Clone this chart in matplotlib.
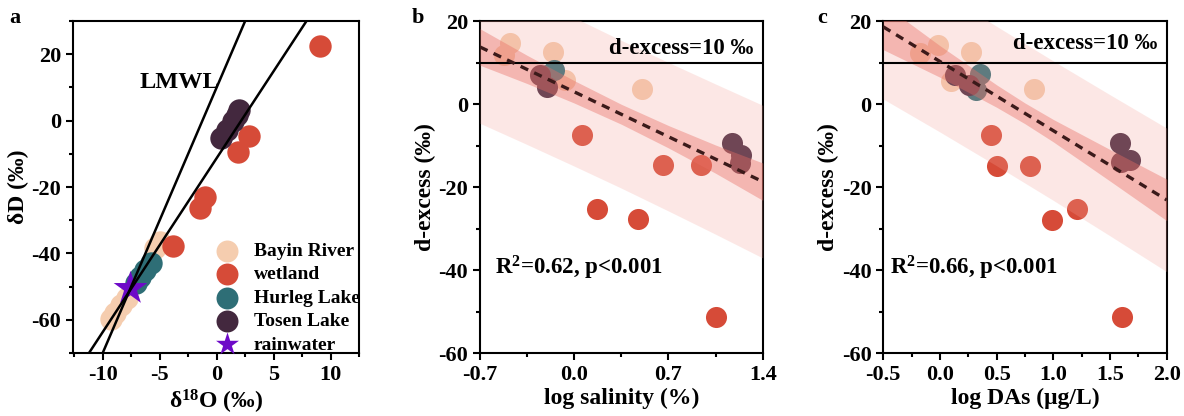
import numpy as np
import matplotlib
matplotlib.use("Agg")
import matplotlib.pyplot as plt
from matplotlib.ticker import MultipleLocator

plt.rcParams['font.family'] = ['Liberation Serif', 'DejaVu Serif']
plt.rcParams['font.weight'] = 'bold'
plt.rcParams['axes.labelweight'] = 'bold'
plt.rcParams['axes.unicode_minus'] = False
plt.rcParams['mathtext.fontset'] = 'custom'
plt.rcParams['mathtext.rm'] = 'Liberation Serif:bold'
plt.rcParams['mathtext.bf'] = 'Liberation Serif:bold'
plt.rcParams['mathtext.default'] = 'bf'

C_BAYIN = '#F5CDAF'
C_WET = '#D64B38'
C_HUR = '#2E6E76'
C_TOS = '#43283E'
C_RAIN = '#6E0AC8'

# ---- panel a: dual isotopes (d18O, dD) ----
a_bayin_x = [-9.3, -8.9, -8.4, -7.9, -5.4, -5.0]
a_bayin_y = [-59.8, -58.0, -55.5, -53.5, -38.5, -36.5]
a_wet_x = [9.1, 2.8, 1.9, -1.0, -1.5, -3.8]
a_wet_y = [22.6, -4.5, -9.5, -22.9, -26.2, -37.7]
a_hur_x = [-5.8, -6.3, -6.7, -7.1]
a_hur_y = [-43.0, -45.0, -47.0, -49.0]
a_tos_x = [0.4, 0.9, 1.4, 1.8, 2.0]
a_tos_y = [-5.2, -2.8, -0.2, 1.8, 3.2]
a_rain_x = [-7.6]
a_rain_y = [-50.5]
# water lines: slope, intercept
line_slopes = [8.0, 5.24]
line_inter = [10.0, -11.3]

# ---- panel b: d-excess vs log salinity ----
b_bayin_x = [-0.48, -0.52, -0.155, -0.07, 0.50]
b_bayin_y = [14.6, 11.8, 12.5, 5.8, 3.7]
b_wet_x = [0.057, 0.66, 0.94, 0.17, 0.47, 1.05]
b_wet_y = [-7.5, -14.7, -14.7, -25.4, -27.8, -51.2]
b_hur_x = [-0.15, -0.20]
b_hur_y = [8.2, 7.0]
b_tos_x = [-0.254, -0.20, 1.17, 1.24, 1.23]
b_tos_y = [6.9, 4.1, -9.5, -12.3, -14.3]
b_band_x = [-0.7, -0.35, 0.0, 0.35, 0.7, 1.05, 1.4]
b_fit = [13.75, 8.34, 2.94, -2.47, -7.88, -13.28, -18.7]
b_ci = [4.4, 3.4, 2.7, 2.4, 2.7, 3.4, 4.5]
b_pi = [18.4, 18.1, 17.9, 17.8, 17.9, 18.1, 18.4]

# ---- panel c: d-excess vs log DAs ----
c_bayin_x = [-0.02, -0.18, 0.27, 0.10, 0.83]
c_bayin_y = [14.2, 12.2, 12.5, 5.5, 3.7]
c_wet_x = [0.45, 0.50, 0.79, 1.21, 0.99, 1.61]
c_wet_y = [-7.5, -14.9, -14.9, -25.4, -27.9, -51.2]
c_hur_x = [0.35, 0.32]
c_hur_y = [7.3, 3.3]
c_tos_x = [0.13, 0.26, 1.59, 1.68, 1.60]
c_tos_y = [6.9, 4.5, -9.5, -13.5, -13.9]
c_band_x = [-0.5, 0.0, 0.5, 0.75, 1.0, 1.5, 2.0]
c_fit = [18.6, 10.26, 1.92, -2.25, -6.42, -14.76, -23.1]
c_ci = [5.5, 3.8, 2.7, 2.5, 2.7, 3.8, 5.0]
c_pi = [17.4, 17.0, 16.8, 16.8, 16.8, 17.0, 17.3]

TICK_FS = 16
LAB_FS = 17


def style_axis(ax):
    for s in ax.spines.values():
        s.set_linewidth(1.5)
    ax.tick_params(which='major', direction='out', length=5, width=1.5,
                   labelsize=TICK_FS, top=False, right=False)
    ax.tick_params(which='minor', direction='out', length=3, width=1.5,
                   top=False, right=False)


fig = plt.figure(figsize=(11.84, 4.16), dpi=100)
axa = fig.add_axes([0.0617, 0.1514, 0.2416, 0.798])
axb = fig.add_axes([0.4054, 0.1514, 0.2388, 0.798])
axc = fig.add_axes([0.7460, 0.1514, 0.2394, 0.798])

# panel a
s_a = 260
axa.scatter(a_bayin_x, a_bayin_y, s=s_a, c=C_BAYIN, lw=0, zorder=2, label='Bayin River')
axa.scatter(a_wet_x, a_wet_y, s=s_a, c=C_WET, lw=0, zorder=2, label='wetland')
axa.scatter(a_hur_x, a_hur_y, s=s_a, c=C_HUR, lw=0, zorder=2, label='Hurleg Lake')
axa.scatter(a_tos_x, a_tos_y, s=s_a, c=C_TOS, lw=0, zorder=2, label='Tosen Lake')
axa.scatter(a_rain_x, a_rain_y, s=650, c=C_RAIN, marker='*', lw=0, zorder=2.5,
            label='rainwater')
xx = np.array([-14.0, 14.0])
for k, b0 in zip(line_slopes, line_inter):
    axa.plot(xx, k * xx + b0, color='black', lw=1.8, zorder=3)
axa.text(-3.3, 11.5, 'LMWL', fontsize=17.5, ha='center', va='center')
axa.set_xlim(-12.6, 12.5)
axa.set_ylim(-70, 30)
axa.xaxis.set_major_locator(MultipleLocator(5))
axa.xaxis.set_minor_locator(MultipleLocator(2.5))
axa.yaxis.set_major_locator(MultipleLocator(20))
axa.yaxis.set_minor_locator(MultipleLocator(10))
axa.set_xlabel('δ$^{18}$O (‰)', fontsize=LAB_FS, labelpad=2)
axa.set_ylabel('δD (‰)', fontsize=LAB_FS, labelpad=2)
style_axis(axa)
leg = axa.legend(loc='lower right', bbox_to_anchor=(1.03, -0.025), frameon=False,
                 fontsize=14, handlelength=1.0, handletextpad=0.9,
                 labelspacing=0.3, borderaxespad=0, scatterpoints=1)
for h in leg.legend_handles:
    h.set_sizes([270] if h.get_label() == 'rainwater' else [250])
leg.legend_handles[-1].set_sizes([300])


def panel_dex(ax, bx, by, wx, wy, hx, hy, tx, ty, bandx, fit, ci, pi,
              xlim, xmaj, xmin, r2text, r2x, linetx, linety):
    s = 230
    ax.scatter(bx, by, s=s, c=C_BAYIN, lw=0, zorder=2)
    ax.scatter(wx, wy, s=s, c=C_WET, lw=0, zorder=2)
    ax.scatter(hx, hy, s=s, c=C_HUR, lw=0, zorder=2)
    ax.scatter(tx, ty, s=s, c=C_TOS, lw=0, zorder=2)
    bandx = np.array(bandx)
    fit = np.array(fit)
    ci = np.array(ci)
    pi = np.array(pi)
    ax.fill_between(bandx, fit - pi, fit + pi, color='#F4A39A', alpha=0.25,
                    lw=0, zorder=3)
    ax.fill_between(bandx, fit - ci, fit + ci, color='#E86E64', alpha=0.4,
                    lw=0, zorder=3.1)
    ax.axhline(10, color='black', lw=1.5, zorder=4)
    ax.plot(bandx, fit, color='#3B1A1A', lw=2.4, ls=(0, (2.5, 2.0)), zorder=5)
    ax.text(linetx, linety, 'd-excess=10 ‰', fontsize=16.5, ha='right',
            va='center', zorder=6)
    ax.text(r2x, -39.6, r2text, fontsize=16.5, ha='left', va='center', zorder=6)
    ax.set_xlim(*xlim)
    ax.set_ylim(-60, 20)
    ax.xaxis.set_major_locator(MultipleLocator(xmaj))
    ax.xaxis.set_minor_locator(MultipleLocator(xmin))
    ax.yaxis.set_major_locator(MultipleLocator(20))
    ax.yaxis.set_minor_locator(MultipleLocator(10))
    ax.set_ylabel('d-excess (‰)', fontsize=LAB_FS, labelpad=2)
    style_axis(ax)


panel_dex(axb, b_bayin_x, b_bayin_y, b_wet_x, b_wet_y, b_hur_x, b_hur_y,
          b_tos_x, b_tos_y, b_band_x, b_fit, b_ci, b_pi,
          (-0.7, 1.4), 0.7, 0.35, 'R$^2$=0.62, p<0.001', -0.59, 1.33, 13.4)
axb.set_xlabel('log salinity (%)', fontsize=LAB_FS, labelpad=2)
axb.xaxis.set_major_formatter(matplotlib.ticker.FormatStrFormatter('%.1f'))

panel_dex(axc, c_bayin_x, c_bayin_y, c_wet_x, c_wet_y, c_hur_x, c_hur_y,
          c_tos_x, c_tos_y, c_band_x, c_fit, c_ci, c_pi,
          (-0.5, 2.0), 0.5, 0.25, 'R$^2$=0.66, p<0.001', -0.44, 1.92, 14.6)
axc.set_xlabel('log DAs (μg/L)', fontsize=LAB_FS, labelpad=2)
axc.xaxis.set_major_formatter(matplotlib.ticker.FormatStrFormatter('%.1f'))

fig.text(15 / 1184, 1 - 18 / 416, 'a', fontsize=16, ha='center', va='center')
fig.text(418 / 1184, 1 - 18 / 416, 'b', fontsize=16, ha='center', va='center')
fig.text(822 / 1184, 1 - 18 / 416, 'c', fontsize=16, ha='center', va='center')

fig.savefig('out.png', dpi=100)
